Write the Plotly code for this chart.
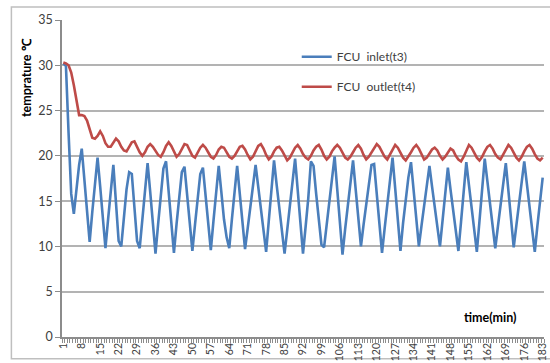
import plotly.graph_objects as go

# Minutes since start (one sample per minute)
minutes = list(range(1, 184))

# FCU inlet temperature t3 (deg C), one value per minute
inlet_t3 = [
    30.2, 29.9, 22.5, 15.8, 13.6, 16.2, 19.0, 20.8, 17.5, 13.6,
    10.5, 13.8, 17.2, 19.8, 16.6, 13.0, 9.8, 13.0, 16.3, 19.0,
    14.8, 10.6, 10.0, 13.2, 16.3, 18.2, 18.0, 14.3, 10.6, 9.8,
    13.0, 16.3, 19.2, 16.0, 12.5, 9.2, 12.5, 15.8, 18.6, 19.4,
    16.2, 12.8, 9.3, 12.5, 15.5, 18.2, 18.8, 15.8, 12.6, 9.5,
    12.4, 15.2, 18.0, 18.7, 15.7, 12.6, 9.6, 12.8, 16.0, 18.9,
    16.0, 13.0, 11.0, 9.8, 13.0, 16.2, 18.9, 15.8, 12.6, 9.7,
    12.0, 14.4, 16.8, 19.0, 16.6, 14.0, 11.6, 9.4, 12.8, 16.2,
    19.5, 16.8, 14.0, 11.4, 9.2, 11.8, 14.6, 17.2, 19.7, 16.2,
    12.7, 9.2, 12.2, 15.3, 19.4, 18.9, 15.8, 12.6, 10.2, 9.9,
    12.4, 15.0, 17.6, 19.95, 16.3, 12.7, 9.1, 11.9, 14.5, 17.1,
    19.5, 16.3, 13.2, 10.0, 12.4, 14.8, 17.2, 19.0, 19.1, 15.8,
    12.5, 9.3, 12.0, 14.8, 17.5, 19.8, 16.4, 13.0, 9.5, 12.6,
    15.0, 17.6, 19.3, 16.2, 13.1, 10.0, 12.3, 14.6, 16.9, 18.9,
    16.6, 14.3, 12.0, 10.0, 12.9, 15.8, 18.7, 16.3, 13.9, 11.6,
    9.5, 12.7, 16.0, 19.3, 16.8, 14.3, 11.8, 9.4, 12.8, 16.2,
    19.7, 17.2, 14.7, 12.2, 9.8, 12.2, 14.6, 17.0, 19.2, 16.1,
    13.0, 9.9, 12.3, 14.7, 17.1, 19.4, 16.9, 14.4, 11.9, 9.4,
    12.3, 15.0, 17.6,
]

# FCU outlet temperature t4 (deg C), one value per minute
outlet_t4 = [
    30.3, 30.2, 30.0, 29.2, 27.8, 26.0, 24.5, 24.5, 24.4, 23.9,
    22.9, 22.0, 21.9, 22.2, 22.7, 22.2, 21.4, 21.0, 21.0, 21.5,
    21.9, 21.6, 21.0, 20.6, 20.5, 21.0, 21.5, 21.6, 21.0, 20.4,
    20.0, 20.4, 21.0, 21.3, 21.0, 20.5, 20.1, 19.9, 20.4, 21.1,
    21.5, 21.1, 20.4, 19.9, 20.2, 20.8, 21.3, 21.2, 20.6, 20.0,
    19.8, 20.3, 20.9, 21.2, 20.9, 20.4, 19.9, 19.7, 20.1, 20.7,
    21.0, 20.9, 20.4, 19.9, 19.7, 20.0, 20.5, 21.0, 21.1, 20.7,
    20.1, 19.6, 19.9, 20.5, 21.1, 21.3, 20.8, 20.1, 19.6, 19.9,
    20.5, 20.9, 21.0, 20.6, 20.0, 19.5, 19.8, 20.4, 20.9, 21.2,
    20.8, 20.2, 19.8, 19.6, 20.0, 20.6, 21.0, 21.2, 20.7, 20.0,
    19.6, 19.9, 20.5, 20.9, 21.2, 20.9, 20.3, 19.8, 19.6, 19.9,
    20.4, 20.9, 21.2, 20.8, 20.1, 19.6, 19.9, 20.4, 20.9, 21.3,
    21.0, 20.4, 19.9, 19.6, 20.1, 20.7, 21.2, 20.9, 20.3, 19.8,
    19.5, 19.9, 20.4, 20.9, 21.2, 20.8, 20.1, 19.6, 19.8, 20.3,
    20.7, 20.9, 20.6, 20.0, 19.6, 19.9, 20.4, 20.8, 20.6, 20.0,
    19.6, 19.4, 19.9, 20.6, 21.2, 20.9, 20.3, 19.8, 19.5, 19.9,
    20.5, 21.0, 21.2, 20.8, 20.2, 19.8, 19.6, 20.1, 20.7, 21.2,
    20.9, 20.3, 19.8, 19.5, 19.9, 20.5, 21.0, 21.2, 20.8, 20.2,
    19.7, 19.5, 19.8,
]

# Category labels shown every 7 minutes
x_tick_vals = list(range(1, 184, 7))
x_tick_text = [str(v) for v in x_tick_vals]

series_names = ["FCU  inlet(t3)", "FCU  outlet(t4)"]
series_colors = ["#4a7ebb", "#be4b48"]

FONT = "Lato, 'Open Sans', sans-serif"
TEXT = "#404040"
GRID = "#b3b3b3"

fig = go.Figure()
for i, (name, ys) in enumerate(zip(series_names, [inlet_t3, outlet_t4])):
    fig.add_trace(go.Scatter(
        x=minutes, y=ys, mode="lines", name=name,
        legendgroup=f"g{i}",
        line=dict(color=series_colors[i], width=2.6),
    ))

fig.update_layout(
    width=550, height=363,
    margin=dict(l=62, r=2, t=20, b=25),
    paper_bgcolor="white", plot_bgcolor="white",
    font=dict(family=FONT, color=TEXT, size=11),
    showlegend=True,
    legend=dict(
        x=0.487, y=0.93, xanchor="left", yanchor="top",
        bgcolor="rgba(0,0,0,0)", font=dict(size=12, color=TEXT),
        tracegroupgap=11, itemwidth=30,
    ),
    xaxis=dict(
        range=[0.5, 183.5],
        tickmode="array", tickvals=x_tick_vals, ticktext=x_tick_text,
        tickangle=-90, tickfont=dict(size=10.5, color=TEXT),
        ticklabeloverflow="allow",
        ticks="outside", ticklen=0,
        minor=dict(dtick=1, tick0=0.5, ticks="outside", ticklen=4,
                   tickcolor="#8c8c8c", tickwidth=1),
        showline=True, linecolor="#8c8c8c", linewidth=1.5,
        showgrid=False, zeroline=False,
    ),
    yaxis=dict(
        range=[0, 35], dtick=5,
        tickfont=dict(size=12.5, color=TEXT),
        ticks="outside", ticklen=5, tickcolor="#8c8c8c",
        showline=True, linecolor="#8c8c8c", linewidth=1.5,
        showgrid=True, gridcolor=GRID, gridwidth=1.5,
        zeroline=False,
    ),
    annotations=[
        dict(text="<b>temprature ℃</b>", textangle=-90,
             xref="paper", yref="paper", x=-0.074, y=0.818,
             xanchor="center", yanchor="middle",
             showarrow=False, font=dict(size=12.5, color="#000000")),
        dict(text="<b>time(min)</b>",
             xref="paper", yref="paper", x=0.887, y=0.063,
             xanchor="center", yanchor="middle",
             showarrow=False, font=dict(size=12.5, color="#000000")),
    ],
    shapes=[
        dict(type="rect", xref="paper", yref="paper",
             x0=-0.105, x1=1.02, y0=-0.069, y1=1.041,
             line=dict(color="#bfbfbf", width=1.5), layer="below"),
    ],
)

fig.write_html("out.html")
